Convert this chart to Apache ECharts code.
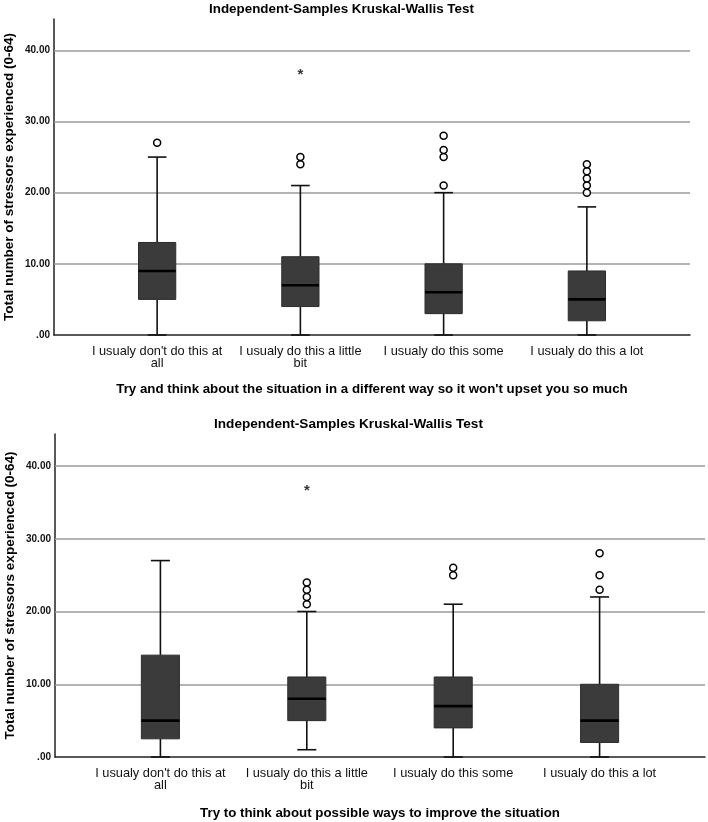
<!DOCTYPE html>
<html>
<head>
<meta charset="utf-8">
<script src="https://cdn.jsdelivr.net/npm/echarts@6/dist/echarts.min.js"></script>
<style>
html,body{margin:0;padding:0;background:#fff;}
#chart{width:708px;height:822px;}
</style>
</head>
<body>
<div id="chart"></div>
<script>
// ---------- data ----------
const titleText = 'Independent-Samples Kruskal-Wallis Test';
const yAxisTitle = 'Total number of stressors experienced (0-64)';
const yTicks = [0, 10, 20, 30, 40];

const categoriesTop = ["I usualy don't do this at\nall", "I usualy do this a little\nbit", "I usualy do this some", "I usualy do this a lot"];
const xTitleTop = "Try and think about the situation in a different way so it won't upset you so much";
const lowTop    = [0, 0, 0, 0];
const q1Top     = [5, 4, 3, 2];
const medianTop = [9, 7, 6, 5];
const q3Top     = [13, 11, 10, 9];
const highTop   = [25, 21, 20, 18];
const outliersTop = [[0,27],[1,24],[1,25],[2,21],[2,25],[2,26],[2,28],[3,20],[3,21],[3,22],[3,23],[3,24]];
const extremesTop = [[1,37]];

const categoriesBottom = ["I usualy don't do this at\nall", "I usualy do this a little\nbit", "I usualy do this some", "I usualy do this a lot"];
const xTitleBottom = "Try to think about possible ways to improve the situation";
const lowBottom    = [0, 1, 0, 0];
const q1Bottom     = [2.5, 5, 4, 2];
const medianBottom = [5, 8, 7, 5];
const q3Bottom     = [14, 11, 11, 10];
const highBottom   = [27, 20, 21, 22];
const outliersBottom = [[1,21],[1,22],[1,23],[1,24],[2,25],[2,26],[3,23],[3,25],[3,28]];
const extremesBottom = [[1,37]];

// ---------- build ----------
const FONT = '"Liberation Sans", Arial, sans-serif';
const BOX_W = 0.26, CAP_W = 0.13;

function boxRows(low, q1, med, q3, high) {
  return low.map((v, i) => [i, v, q1[i], med[i], q3[i], high[i]]);
}

function renderBox(params, api) {
  const x = api.value(0);
  const pLo = api.coord([x, api.value(1)]);
  const pQ1 = api.coord([x, api.value(2)]);
  const pMed = api.coord([x, api.value(3)]);
  const pQ3 = api.coord([x, api.value(4)]);
  const pHi = api.coord([x, api.value(5)]);
  const bw = api.size([BOX_W, 0])[0];
  const cw = api.size([CAP_W, 0])[0];
  const cx = pMed[0];
  const ws = {stroke: '#111', lineWidth: 1.6};
  return {
    type: 'group',
    children: [
      {type: 'line', shape: {x1: cx, y1: pLo[1], x2: cx, y2: pQ1[1]}, style: ws},
      {type: 'line', shape: {x1: cx, y1: pQ3[1], x2: cx, y2: pHi[1]}, style: ws},
      {type: 'line', shape: {x1: cx - cw/2, y1: pHi[1], x2: cx + cw/2, y2: pHi[1]}, style: ws},
      {type: 'line', shape: {x1: cx - cw/2, y1: pLo[1], x2: cx + cw/2, y2: pLo[1]}, style: ws},
      {type: 'rect', shape: {x: cx - bw/2, y: pQ3[1], width: bw, height: pQ1[1] - pQ3[1]},
        style: {fill: '#3b3b3b', stroke: '#2c2c2c', lineWidth: 1}},
      {type: 'line', shape: {x1: cx - bw/2, y1: pMed[1], x2: cx + bw/2, y2: pMed[1]}, style: {stroke: '#000', lineWidth: 2.6}}
    ]
  };
}

function makeAxes(idx, cats, xTitle, gap) {
  const xAxis = {
    type: 'value', gridIndex: idx, min: -0.72, max: 3.72,
    axisLine: {show: true, onZero: false, lineStyle: {color: '#222', width: 1.5}},
    axisTick: {show: false},
    splitLine: {show: false},
    axisLabel: {
      customValues: [0, 1, 2, 3],
      formatter: v => cats[Math.round(v)],
      color: '#111', fontFamily: FONT, fontSize: 12.8, lineHeight: 12, margin: 10
    },
    name: xTitle, nameLocation: 'middle', nameGap: gap,
    nameTextStyle: {fontFamily: FONT, fontWeight: 'bold', fontSize: 13.3, color: '#000'}
  };
  const yAxis = {
    type: 'value', gridIndex: idx, min: 0, max: 44.4, interval: 10,
    axisLine: {show: true, onZero: false, lineStyle: {color: '#222', width: 1.5}},
    axisTick: {show: false},
    splitLine: {show: false},
    axisLabel: {
      customValues: yTicks,
      formatter: v => v === 0 ? '.00' : v.toFixed(2),
      color: '#111', fontFamily: FONT, fontSize: 10, fontWeight: 'bold', margin: 4
    },
    name: yAxisTitle, nameLocation: 'middle', nameRotate: 90, nameGap: 38, nameMoveOverlap: false,
    nameTextStyle: {fontFamily: FONT, fontWeight: 'bold', fontSize: 13.5, color: '#000'}
  };
  return {xAxis, yAxis};
}

function makeSeries(idx, rows, outliers, extremes) {
  return [
    {
      type: 'line', xAxisIndex: idx, yAxisIndex: idx, data: [], z: 1, silent: true,
      markLine: {
        silent: true, symbol: 'none', animation: false, z: 1,
        label: {show: false},
        lineStyle: {color: '#9a9a9a', width: 1.5, type: 'solid'},
        data: yTicks.filter(v => v > 0).map(v => ({yAxis: v}))
      }
    },
    {
      type: 'custom', xAxisIndex: idx, yAxisIndex: idx, z: 3,
      renderItem: renderBox, data: rows, animation: false
    },
    {
      type: 'scatter', xAxisIndex: idx, yAxisIndex: idx, z: 4, data: outliers,
      symbol: 'circle', symbolSize: 7,
      itemStyle: {color: '#fff', borderColor: '#000', borderWidth: 1.5, opacity: 1}, animation: false
    },
    {
      type: 'scatter', xAxisIndex: idx, yAxisIndex: idx, z: 4, data: extremes,
      symbolSize: 1, itemStyle: {color: 'rgba(0,0,0,0)'},
      label: {show: true, position: 'inside', formatter: '*', fontSize: 15, fontWeight: 'bold',
        color: '#000', fontFamily: FONT, offset: [0, 3]}, animation: false
    }
  ];
}

const a1 = makeAxes(0, categoriesTop, xTitleTop, 48);
const a2 = makeAxes(1, categoriesBottom, xTitleBottom, 50);

const option = {
  backgroundColor: '#fff',
  animation: false,
  title: [
    {text: titleText, left: 209, top: 3, padding: 0,
      textStyle: {fontFamily: FONT, fontWeight: 'bold', fontSize: 13.4, color: '#000'}},
    {text: titleText, left: 214, top: 417, padding: 0,
      textStyle: {fontFamily: FONT, fontWeight: 'bold', fontSize: 13.6, color: '#000'}}
  ],
  grid: [
    {left: 54, right: 18, top: 19, height: 316, outerBoundsMode: 'none'},
    {left: 55, right: 3, top: 434, height: 323, outerBoundsMode: 'none'}
  ],
  xAxis: [a1.xAxis, a2.xAxis],
  yAxis: [a1.yAxis, a2.yAxis],
  series: [
    ...makeSeries(0, boxRows(lowTop, q1Top, medianTop, q3Top, highTop), outliersTop, extremesTop),
    ...makeSeries(1, boxRows(lowBottom, q1Bottom, medianBottom, q3Bottom, highBottom), outliersBottom, extremesBottom)
  ]
};

const chart = echarts.init(document.getElementById('chart'), null, {renderer: 'canvas'});
chart.setOption(option);
</script>
</body>
</html>
